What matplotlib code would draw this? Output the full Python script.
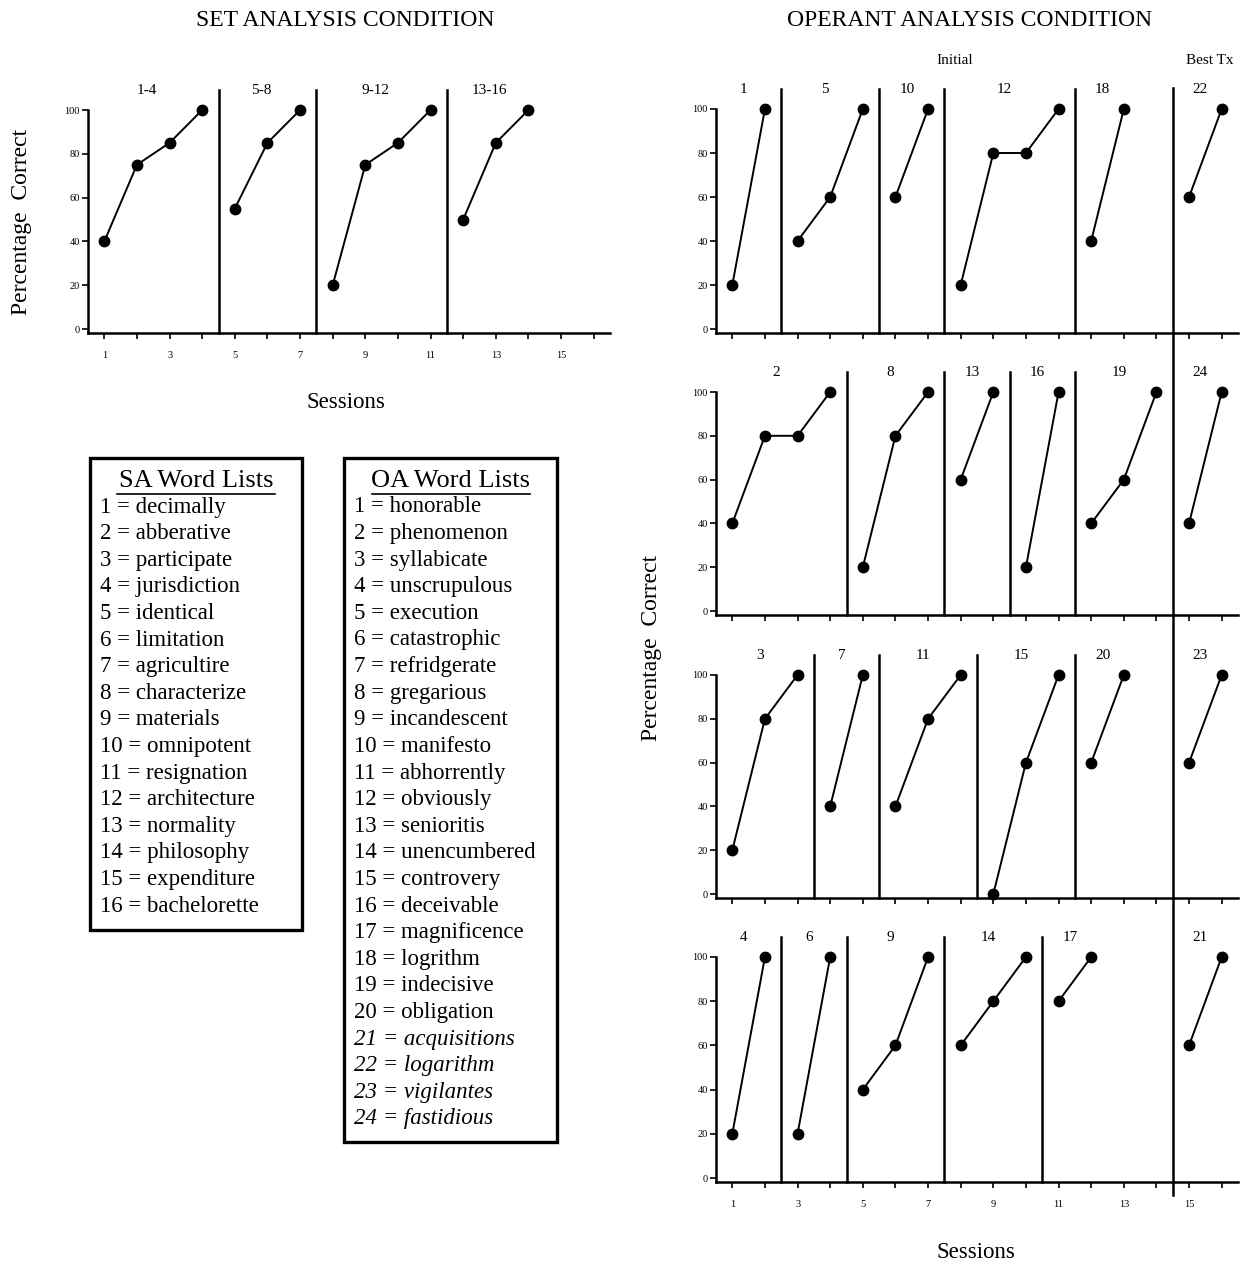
import numpy as np
import matplotlib
matplotlib.use("Agg")
import matplotlib.pyplot as plt
from matplotlib.lines import Line2D
from matplotlib.patches import Rectangle
from matplotlib.transforms import blended_transform_factory

plt.rcParams['font.family'] = ['Liberation Serif', 'DejaVu Serif']

W, H = 1249, 1264

# ---- data ----
# SA condition: one group of sessions per word-list block
sa_labels = ['1-4', '5-8', '9-12', '13-16']
sa_sessions = [[1, 2, 3, 4], [5, 6, 7], [8, 9, 10, 11], [12, 13, 14]]
sa_scores = [[40, 75, 85, 100], [55, 85, 100], [20, 75, 85, 100], [50, 85, 100]]
sa_phase = [4.5, 7.5, 11.5]

# OA condition, four rows
oa_labels = [
    ['1', '5', '10', '12', '18', '22'],
    ['2', '8', '13', '16', '19', '24'],
    ['3', '7', '11', '15', '20', '23'],
    ['4', '6', '9', '14', '17', '21'],
]
oa_sessions = [
    [[1, 2], [3, 4, 5], [6, 7], [8, 9, 10, 11], [12, 13], [15, 16]],
    [[1, 2, 3, 4], [5, 6, 7], [8, 9], [10, 11], [12, 13, 14], [15, 16]],
    [[1, 2, 3], [4, 5], [6, 7, 8], [9, 10, 11], [12, 13], [15, 16]],
    [[1, 2], [3, 4], [5, 6, 7], [8, 9, 10], [11, 12], [15, 16]],
]
oa_scores = [
    [[20, 100], [40, 60, 100], [60, 100], [20, 80, 80, 100], [40, 100], [60, 100]],
    [[40, 80, 80, 100], [20, 80, 100], [60, 100], [20, 100], [40, 60, 100], [40, 100]],
    [[20, 80, 100], [40, 100], [40, 80, 100], [0, 60, 100], [60, 100], [60, 100]],
    [[20, 100], [20, 100], [40, 60, 100], [60, 80, 100], [80, 100], [60, 100]],
]
oa_phase = [
    [2.5, 5.5, 7.5, 11.5],
    [4.5, 7.5, 9.5, 11.5],
    [3.5, 5.5, 8.5, 11.5],
    [2.5, 4.5, 7.5, 10.5],
]
best_tx = 14.5

sa_words = ['decimally', 'abberative', 'participate', 'jurisdiction', 'identical',
            'limitation', 'agricultire', 'characterize', 'materials', 'omnipotent',
            'resignation', 'architecture', 'normality', 'philosophy', 'expenditure',
            'bachelorette']
oa_words = ['honorable', 'phenomenon', 'syllabicate', 'unscrupulous', 'execution',
            'catastrophic', 'refridgerate', 'gregarious', 'incandescent', 'manifesto',
            'abhorrently', 'obviously', 'senioritis', 'unencumbered', 'controvery',
            'deceivable', 'magnificence', 'logrithm', 'indecisive', 'obligation',
            'acquisitions', 'logarithm', 'vigilantes', 'fastidious']
oa_italic_from = 21

x_ticks = np.arange(1, 17)
x_ticklabels = [str(t) if t % 2 == 1 else '' for t in x_ticks]
y_ticks = [0, 20, 40, 60, 80, 100]


def fx(px):
    return px / W


def fy(py):
    return 1 - py / H


def make_axes(fig, left, top, right, bottom):
    return fig.add_axes([fx(left), fy(bottom), fx(right) - fx(left), fy(top) - fy(bottom)])


def style_axes(ax, show_labels):
    ax.set_xlim(0.5, 16.5)
    ax.set_ylim(-1.8, 100)
    for s in ['top', 'right']:
        ax.spines[s].set_visible(False)
    ax.spines['left'].set_linewidth(1.8)
    ax.spines['bottom'].set_linewidth(1.8)
    ax.spines['left'].set_bounds(-1.8, 100)
    ax.set_xticks(x_ticks)
    ax.set_xticklabels(x_ticklabels if show_labels else [''] * len(x_ticks))
    ax.set_yticks(y_ticks)
    ax.tick_params(axis='both', direction='out', length=4, width=1.2, labelsize=7.5)
    ax.tick_params(axis='x', pad=9)
    ax.tick_params(axis='y', pad=2)
    ax.patch.set_alpha(0)


def draw_groups(ax, sessions, scores, labels, phases, label_shift, top=108):
    for s, v, lab in zip(sessions, scores, labels):
        ax.plot(s, v, color='black', lw=1.4, marker='o', ms=7.5, clip_on=False)
        ax.text(np.mean(s) - label_shift, top, lab, ha='center', va='center', fontsize=11)
    for p in phases:
        ax.plot([p, p], [-1.8, top], color='black', lw=1.8, clip_on=False)


fig = plt.figure(figsize=(W / 100, H / 100), dpi=100)

# ---- SA panel ----
ax_sa = make_axes(fig, 88, 110, 610, 333)
style_axes(ax_sa, True)
draw_groups(ax_sa, sa_sessions, sa_scores, sa_labels, sa_phase, 0.2, top=109)
fig.text(fx(22), fy(222), 'Percentage  Correct', rotation=90, ha='center', va='center', fontsize=17)
fig.text(fx(346), fy(403), 'Sessions', ha='center', va='center', fontsize=16.5)
fig.text(fx(345), fy(20), 'SET ANALYSIS CONDITION', ha='center', va='center', fontsize=17)

# ---- OA panels ----
row_px = [(109, 333), (392, 615), (675, 898), (957, 1182)]
oa_axes = []
for i, (t, b) in enumerate(row_px):
    ax = make_axes(fig, 716, t, 1238, b)
    style_axes(ax, i == len(row_px) - 1)
    draw_groups(ax, oa_sessions[i], oa_scores[i], oa_labels[i], oa_phase[i], 0.15, top=109)
    oa_axes.append(ax)

# best treatment line runs through all rows
tr = blended_transform_factory(oa_axes[0].transData, fig.transFigure)
fig.add_artist(Line2D([best_tx, best_tx], [fy(88), fy(1195)], color='black', lw=1.8, transform=tr))

fig.text(fx(955), fy(60), 'Initial', ha='center', va='center', fontsize=11)
fig.text(fx(1210), fy(60), 'Best Tx', ha='center', va='center', fontsize=11)
fig.text(fx(970), fy(20), 'OPERANT ANALYSIS CONDITION', ha='center', va='center', fontsize=17)
fig.text(fx(652), fy(648), 'Percentage  Correct', rotation=90, ha='center', va='center', fontsize=17)
fig.text(fx(976), fy(1253), 'Sessions', ha='center', va='center', fontsize=16.5)


# ---- word list boxes ----
def word_box(left, top, right, bottom, title, words, italic_from=None):
    fig.add_artist(Rectangle((fx(left), fy(bottom)), fx(right) - fx(left), fy(top) - fy(bottom),
                             transform=fig.transFigure, fill=False, lw=2.4, ec='black'))
    cx = (left + right) / 2
    fig.text(fx(cx), fy(481), title, ha='center', va='center', fontsize=19)
    fig.add_artist(Line2D([fx(cx - 79), fx(cx + 79)], [fy(494), fy(494)],
                          transform=fig.transFigure, color='black', lw=1.2))
    for k, w in enumerate(words):
        n = k + 1
        style = 'italic' if italic_from and n >= italic_from else 'normal'
        fig.text(fx(left + 10), fy(507 + k * 26.6), f'{n} = {w}', ha='left', va='center',
                 fontsize=16.5, style=style)


word_box(90, 458, 302, 930, 'SA Word Lists', sa_words)
word_box(344, 458, 557, 1142, 'OA Word Lists', oa_words, oa_italic_from)

fig.savefig('out.png', dpi=100)
